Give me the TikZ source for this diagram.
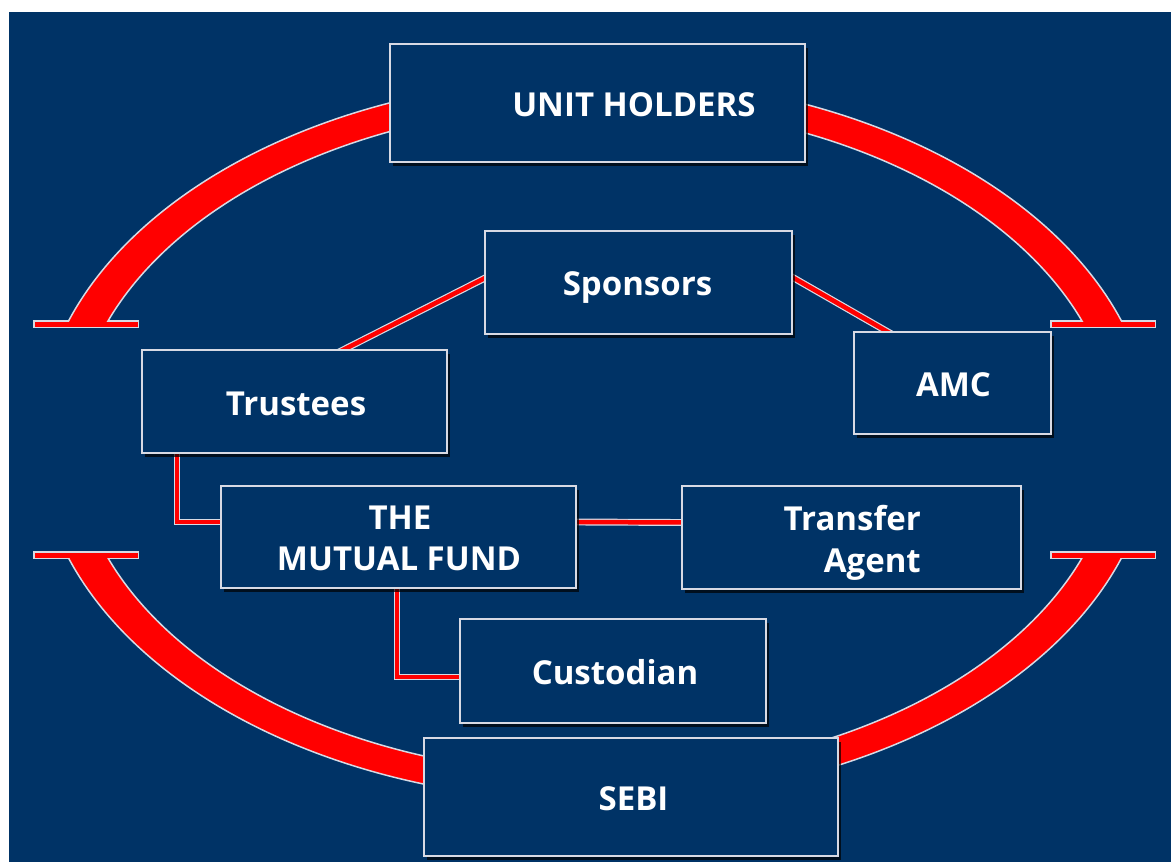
\documentclass[tikz,border=0pt]{standalone}
\usepackage{fontspec}
\setmainfont{Open Sans}
\usetikzlibrary{shadows,backgrounds}
\definecolor{bgblue}{RGB}{0,51,102}
\definecolor{edgegrey}{RGB}{215,218,228}
\definecolor{bandred}{RGB}{255,0,0}
\begin{document}
\begin{tikzpicture}[x=1pt,y=-1pt,
  box/.style={draw=edgegrey, line width=1.5pt, fill=bgblue, inner sep=0pt, outer sep=0pt,
    drop shadow={shadow xshift=3pt, shadow yshift=-4pt, fill=black, opacity=0.7}},
  lbl/.style={text=white, font=\fontsize{33}{40}\selectfont\bfseries, inner sep=0pt, anchor=base},
  lblr/.style={lbl, anchor=base east},
  link/.style={draw=edgegrey, double=bandred, double distance=4.5pt, line width=1.2pt},
  slant/.style={link, shorten <=-6pt, shorten >=-6pt},
  bar/.style={fill=bandred, draw=edgegrey, line width=1.5pt},
  band/.style={fill=bandred, even odd rule},
  bandedge/.style={draw=edgegrey, line width=1.5pt}
]
\useasboundingbox (0,0) rectangle (1171,862);

% boxes
\node[box, minimum width=415pt, minimum height=118pt] (uh) at (597.5,103) {};
\node[box, minimum width=307pt, minimum height=103pt] (spons) at (638.5,282.5) {};
\node[box, minimum width=305pt, minimum height=103pt] (trust) at (294.5,401.5) {};
\node[box, minimum width=197pt, minimum height=102pt] (amc) at (952.5,383) {};
\node[box, minimum width=355pt, minimum height=102pt] (mf) at (398.5,537) {};
\node[box, minimum width=339pt, minimum height=103pt] (ta) at (851.5,537.5) {};
\node[box, minimum width=306pt, minimum height=104pt] (cust) at (613,671) {};
\node[box, minimum width=414pt, minimum height=118pt] (sebi) at (631,797) {};

% labels
\node[lbl] (tuh) at (634,116) {UNIT HOLDERS};
\node[lbl] (tspons) at (637.5,295) {Sponsors};
\node[lbl] (ttrust) at (296,415) {Trustees};
\node[lbl] (tamc) at (953.5,396) {AMC};
\node[lbl] (tmf1) at (400,529) {THE};
\node[lbl] (tmf2) at (399,570) {MUTUAL FUND};
\node[lblr] (tta1) at (921,530) {Transfer};
\node[lblr] (tta2) at (921,572) {Agent};
\node[lbl] (tcust) at (615,684) {Custodian};
\node[lbl] (tsebi) at (633.5,810) {SEBI};

\begin{pgfonlayer}{background}
  \fill[white] (0,0) rectangle (1171,862);
  \fill[bgblue] (9,12) rectangle (1171,862);
  % T bars
  \draw[bar] (33.75,320.75) rectangle (138.25,327.25);
  \draw[bar] (1050.75,320.75) rectangle (1155.25,327.25);
  \draw[bar] (33.75,551.75) rectangle (138.25,558.25);
  \draw[bar] (1050.75,551.75) rectangle (1155.25,558.25);
  % upper arc
  \begin{scope}
    \clip (0,0) rectangle (1171,321.6);
    \fill[band] (595,439.5) ellipse [x radius=557pt, y radius=362pt]
                (595,439.5) ellipse [x radius=520.5pt, y radius=335pt];
    \draw[bandedge] (595,439.5) ellipse [x radius=557pt, y radius=362pt];
    \draw[bandedge] (595,439.5) ellipse [x radius=520.5pt, y radius=335pt];
  \end{scope}
  % lower arc
  \begin{scope}
    \clip (0,558.4) rectangle (1171,862);
    \fill[band] (595,439.5) ellipse [x radius=557pt, y radius=362pt]
                (595,439.5) ellipse [x radius=520.5pt, y radius=335pt];
    \draw[bandedge] (595,439.5) ellipse [x radius=557pt, y radius=362pt];
    \draw[bandedge] (595,439.5) ellipse [x radius=520.5pt, y radius=335pt];
  \end{scope}
  % connectors
  \draw[slant] ([yshift=4.5pt]spons.west) -- ([xshift=48.5pt]trust.north);
  \draw[slant] ([yshift=5.5pt]spons.east) -- ([xshift=-64.5pt]amc.north);
  \draw[link] ([xshift=-117.5pt]trust.south) |- ([yshift=15pt]mf.west);
  \draw[link] ([yshift=15pt]mf.east) -- ([yshift=15pt]ta.west);
  \draw[link] ([xshift=-1.5pt]mf.south) |- ([yshift=-6pt]cust.west);
\end{pgfonlayer}
\end{tikzpicture}
\end{document}
